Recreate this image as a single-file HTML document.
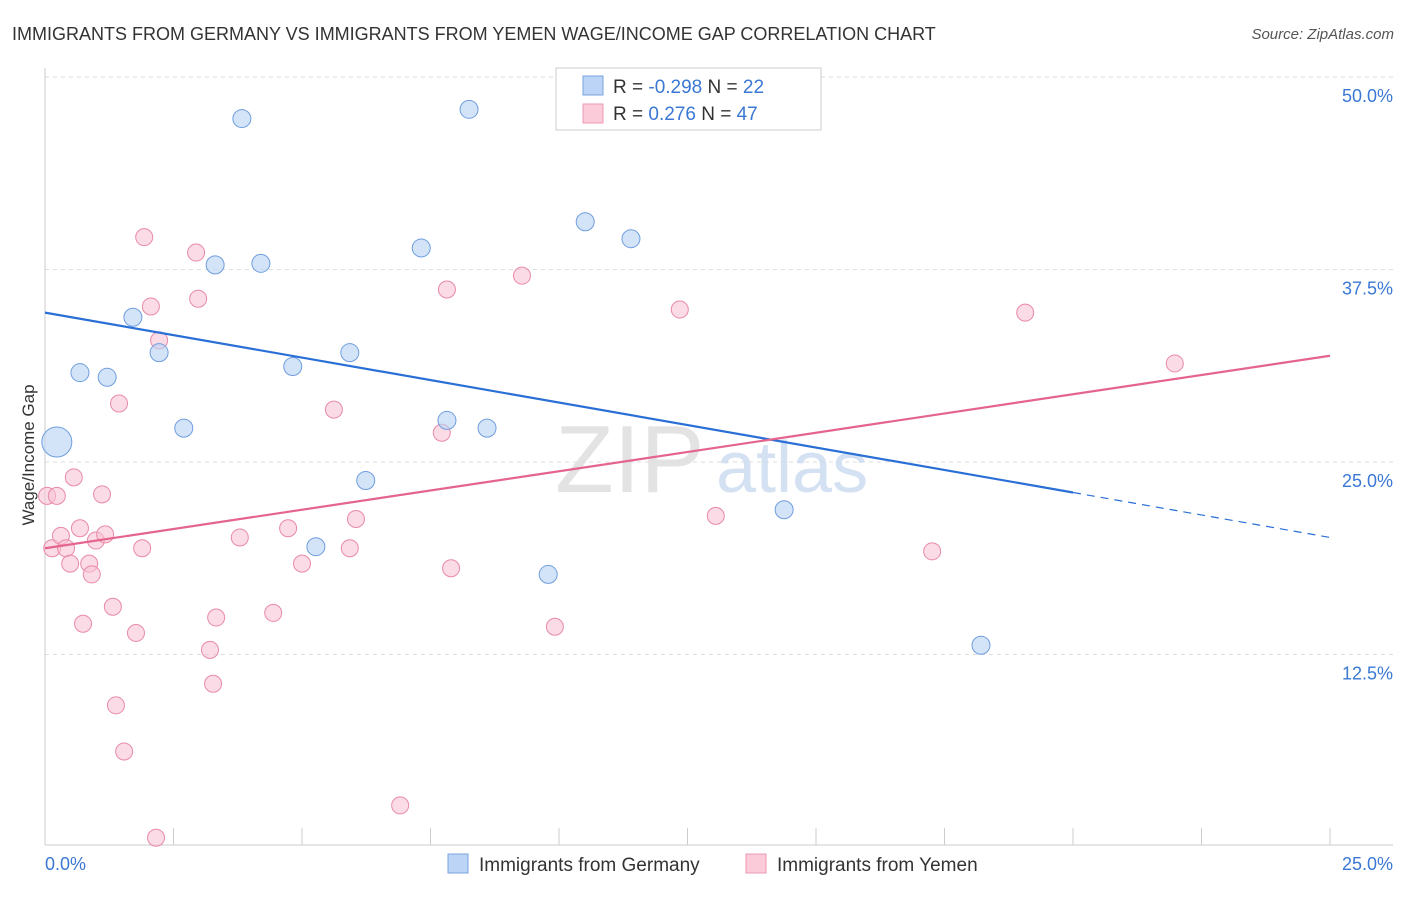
<!DOCTYPE html>
<html><head><meta charset="utf-8"><style>
body{margin:0;background:#fff;font-family:"Liberation Sans",sans-serif}
svg text{font-family:"Liberation Sans",sans-serif}
</style></head><body>
<svg width="1406" height="892" viewBox="0 0 1406 892">
<text x="12" y="40" font-size="18" fill="#333">IMMIGRANTS FROM GERMANY VS IMMIGRANTS FROM YEMEN WAGE/INCOME GAP CORRELATION CHART</text>
<text x="1394" y="39" font-size="15" fill="#555" font-style="italic" text-anchor="end">Source: ZipAtlas.com</text>
<g id="grid"></g>
<g id="axes"></g>
<text x="555" y="492" font-size="96" fill="#ddd" font-family="Liberation Serif" opacity="0.8">ZIP</text>
<text x="716" y="492" font-size="72" fill="#c9daf0" opacity="0.8">atlas</text>
<g id="marks"></g>
<text x="34" y="455" font-size="17" fill="#333" text-anchor="middle" transform="rotate(-90 34 455)">Wage/Income Gap</text>
<g>
<rect x="556" y="68" width="265" height="62" fill="#fff" stroke="#ccc"/>
<rect x="583" y="76" width="20" height="19" fill="#bcd4f5" stroke="#7aa3dd"/>
<rect x="583" y="104" width="20" height="19" fill="#fbcbd9" stroke="#ec9ab3"/>
<text x="613" y="93" font-size="19" fill="#333">R = <tspan fill="#3a78d4">-0.298</tspan>   N = <tspan fill="#3a78d4">22</tspan></text>
<text x="613" y="120" font-size="19" fill="#333">R =   <tspan fill="#3a78d4">0.276</tspan>   N = <tspan fill="#3a78d4">47</tspan></text>
</g>
<g>
<rect x="448" y="854" width="20" height="19" fill="#bcd4f5" stroke="#7aa3dd"/>
<text x="479" y="871" font-size="19" fill="#333">Immigrants from Germany</text>
<rect x="746" y="854" width="20" height="19" fill="#fbcbd9" stroke="#ec9ab3"/>
<text x="777" y="871" font-size="19" fill="#333">Immigrants from Yemen</text>
</g>
</svg>
<script>
const yTicks=[12.5,25,37.5,50];
const yTickLabels=["12.5%","25.0%","37.5%","50.0%"];
const xTickLabels=["0.0%","25.0%"];
const germanyX=[0.23,0.68,1.21,1.71,2.22,2.70,3.31,3.83,4.20,4.82,5.93,6.24,7.32,7.82,8.25,8.60,5.27,9.79,10.51,11.40,14.38,18.21];
const germanyY=[26.3,30.8,30.5,34.4,32.1,27.2,37.8,47.3,37.9,31.2,32.1,23.8,38.9,27.7,47.9,27.2,19.5,17.7,40.6,39.5,21.9,13.1];
const germanyR=[15,9,9,9,9,9,9,9,9,9,9,9,9,9,9,9,9,9,9,9,9,9];
const yemenX=[0.04,0.23,0.14,0.31,0.41,0.49,0.56,0.68,0.74,0.86,0.91,0.99,1.11,1.17,1.32,1.38,1.44,1.54,1.77,1.89,1.93,2.06,2.16,2.22,2.94,2.98,3.21,3.27,3.33,3.79,4.44,4.73,5.00,5.62,5.93,6.05,6.91,7.72,7.82,7.90,9.28,9.92,12.35,13.05,17.26,19.07,21.98];
const yemenY=[22.8,22.8,19.4,20.2,19.4,18.4,24.0,20.7,14.5,18.4,17.7,19.9,22.9,20.3,15.6,9.2,28.8,6.2,13.9,19.4,39.6,35.1,0.6,32.9,38.6,35.6,12.8,10.6,14.9,20.1,15.2,20.7,18.4,28.4,19.4,21.3,2.7,26.9,36.2,18.1,37.1,14.3,34.9,21.5,19.2,34.7,31.4];
const germanyTrend=[34.7,20.1]; // value at x=0 and x=25
const yemenTrend=[19.4,31.9];
const germanySolidEnd=20;
const NS="http://www.w3.org/2000/svg";
const X=v=>45+v*51.4, Y=v=>847-v*15.4;
function mk(t,a,p){const e=document.createElementNS(NS,t);for(const k in a)e.setAttribute(k,a[k]);p.appendChild(e);return e;}
const grid=document.getElementById('grid'),axes=document.getElementById('axes'),marks=document.getElementById('marks');
yTicks.forEach((t,i)=>{
 const l=mk('line',{x1:45,x2:1393,y1:Y(t),y2:Y(t),stroke:'#ddd','stroke-dasharray':'4,4'},grid);
 
 
 const tx=mk('text',{x:1393,y:Y(t)+25,'font-size':18,fill:'#3a78d4','text-anchor':'end'},axes);tx.textContent=yTickLabels[i];
 
 
});
mk('line',{x1:45,x2:45,y1:68,y2:845,stroke:'#ccc'},axes);
mk('line',{x1:45,x2:1393,y1:845,y2:845,stroke:'#ccc'},axes);
for(let i=0;i<=10;i++){const l=mk('line',{x1:X(i*2.5),x2:X(i*2.5),y1:828,y2:845,stroke:'#ccc'},axes);
 
 }
[[0,'start',45],[25,'end',1393]].forEach((d,i)=>{const t=mk('text',{x:d[2],y:870,'font-size':18,fill:'#3a78d4','text-anchor':d[1]},axes);t.textContent=xTickLabels[i];
 
 });
yemenX.forEach((v,i)=>{const c=mk('circle',{cx:X(v),cy:Y(yemenY[i]),r:8.5,fill:'#f9c3d4','fill-opacity':0.6,stroke:'#e98aa8','stroke-width':1},marks);
 
 });
germanyX.forEach((v,i)=>{const c=mk('circle',{cx:X(v),cy:Y(germanyY[i]),r:germanyR[i],fill:'#bcd4f5','fill-opacity':0.65,stroke:'#6f9ede','stroke-width':1},marks);
 
 });
const gy=x=>germanyTrend[0]+(germanyTrend[1]-germanyTrend[0])*x/25;
let l=mk('line',{x1:X(0),y1:Y(gy(0)),x2:X(germanySolidEnd),y2:Y(gy(germanySolidEnd)),stroke:'#2a6fd6','stroke-width':2.2},marks);


l=mk('line',{x1:X(germanySolidEnd),y1:Y(gy(germanySolidEnd)),x2:X(25),y2:Y(gy(25)),stroke:'#2a6fd6','stroke-width':1.2,'stroke-dasharray':'8,6'},marks);


l=mk('line',{x1:X(0),y1:Y(yemenTrend[0]),x2:X(25),y2:Y(yemenTrend[1]),stroke:'#e4648d','stroke-width':2.2},marks);


</script>
</body></html>
